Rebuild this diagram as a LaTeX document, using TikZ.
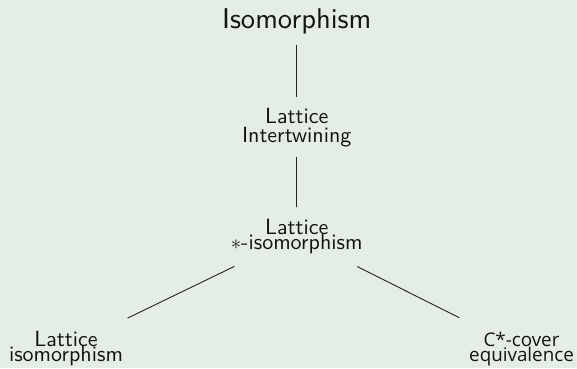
\documentclass[tikz,border=0pt]{standalone}
\usepackage{fontspec}
\newfontfamily\opensans{Open Sans}
\newfontfamily\lmsten[Extension=.otf]{lmsans10-regular}
\newcommand\lmsz[2]{\lmsten\fontsize{#1}{#2}\selectfont\lineskiplimit=-20pt\relax}
\newcommand\ossz[2]{\opensans\fontsize{#1}{#2}\selectfont\lineskiplimit=-20pt\relax}
\definecolor{bgc}{RGB}{228,238,228}
\definecolor{ink}{RGB}{20,20,20}
\definecolor{linec}{RGB}{35,35,35}
\begin{document}
\begin{tikzpicture}[x=1pt,y=1pt,
  lbl/.style={inner sep=0pt, outer sep=0pt, align=center, text=ink, anchor=base},
  big/.style={lbl, font={\lmsz{28.6}{30}}},
  small/.style={lbl, font={\lmsz{22}{15.3}}},
  link/.style={draw=linec, line width=0.9pt}]
\fill[bgc] (0,0) rectangle (577,368);
\useasboundingbox (0,0) rectangle (577,368);
\node[big] (iso) at (296.7,339.7) {Isomorphism};
\node[small, font={\lmsz{22}{19.4}}] (lint) at (296.7,225.3) {Lattice\\Intertwining};
\node[small] (ist) at (296.7,118.7) {Lattice\\$\ast$-isomorphism};
\node[small, font={\lmsz{22}{15}}] (liso) at (66,7) {Lattice\\isomorphism};
\node[lbl, font={\ossz{18.8}{14.3}}] (cst) at (521.5,7) {C*-cover\\equivalence};
\draw[link, shorten <=11.1pt, shorten >=11.3pt] (iso) -- (lint);
\draw[link, shorten <=9.7pt, shorten >=12pt] (lint) -- (ist);
\draw[link, shorten <=29.4pt, shorten >=28.9pt] (ist) -- (liso);
\draw[link, shorten <=29pt, shorten >=32.7pt] (ist) -- (cst);
\end{tikzpicture}
\end{document}
